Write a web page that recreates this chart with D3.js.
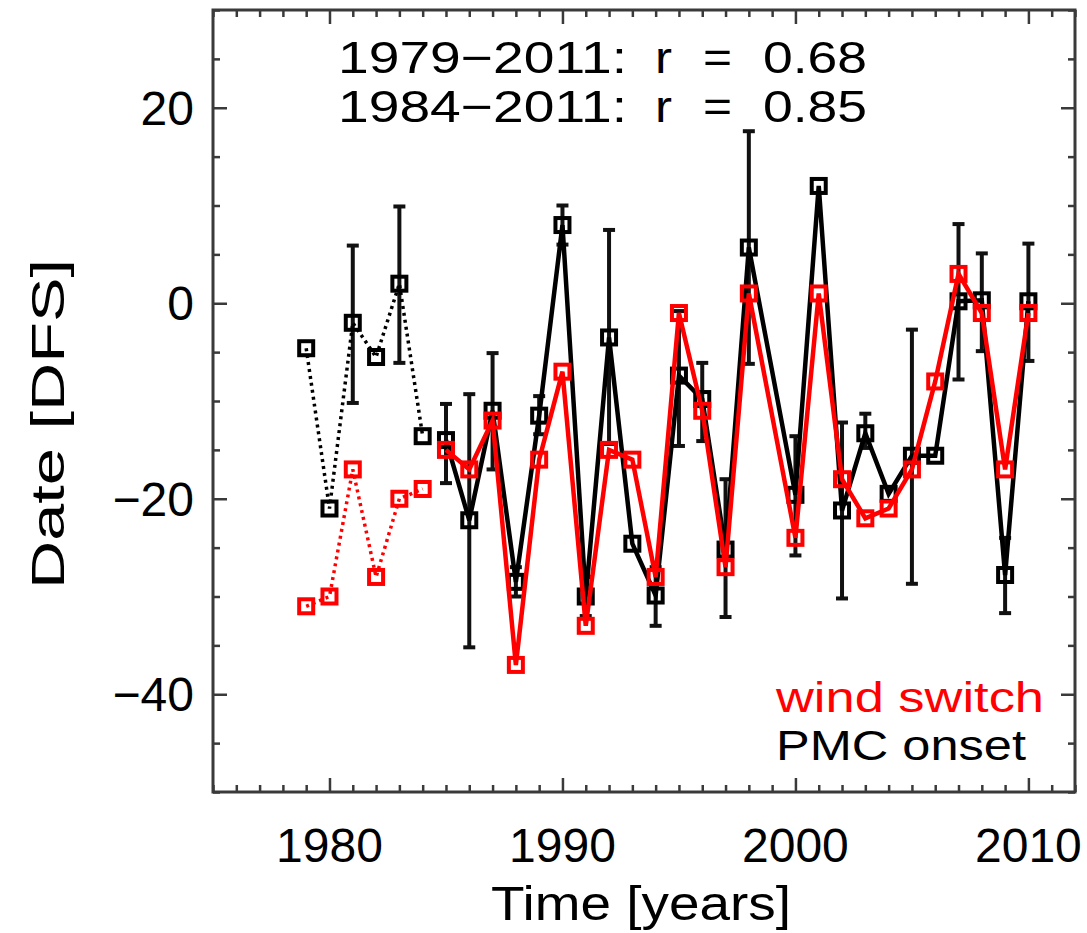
<!DOCTYPE html>
<html>
<head>
<meta charset="utf-8">
<script src="https://cdn.jsdelivr.net/npm/d3@7"></script>
<style>
  body { margin: 0; background: #fff; }
  text { font-family: "Liberation Sans", Arial, sans-serif; }
</style>
</head>
<body>
<div id="chart"></div>
<script>
// years (1999 has no data)
const years = [1979, 1980, 1981, 1982, 1983, 1984, 1985, 1986, 1987, 1988, 1989, 1990,
  1991, 1992, 1993, 1994, 1995, 1996, 1997, 1998, 2000, 2001, 2002, 2003, 2004,
  2005, 2006, 2007, 2008, 2009, 2010];

// PMC onset (black) and its error range
const pmcOnset = [-4.6, -21, -2, -5.5, 2, -13.6, -14, -22.2, -11, -28.5, -11.5, 8,
  -30, -3.5, -24.6, -29.9, -7.4, -9.8, -25.2, 5.7, -19.6, 12, -21.2, -13.3, -19.5,
  -15.6, -15.6, 0.2, 0.3, -27.8, 0.2];
const pmcLow = [null, null, -10.2, null, -6.1, null, -18.4, -35.2, -17, -30, -13.4, 6,
  -32, -14.4, null, -33, -14.6, -14.1, -32.1, -6.2, -25.8, null, -30.2, -14.8, null,
  -28.7, null, -7.8, -4.9, -31.7, -5.9];
const pmcHigh = [null, null, 5.9, null, 9.9, null, -10.3, -9.3, -5.1, -27, -9.5, 10,
  -28, 7.5, null, -27, -0.8, -6.1, -18, 17.6, -13.6, null, -12.2, -11.3, null,
  -2.7, null, 8.1, 5.1, -24, 6.1];

// wind switch (red)
const windSwitch = [-31, -30, -17, -28, -20, -19, -15, -17, -12, -37, -16, -7, -33,
  -15, -16, -28, -1, -11, -27, 1, -24, 1, -18, -22, -21, -17, -8, 3, -1, -17, -1];

const xTickLabels = [1980, 1990, 2000, 2010];
const yTickLabels = [-40, -20, 0, 20];
const corrLabels = [["1979\u22122011:", "r", "=", "0.68"], ["1984\u22122011:", "r", "=", "0.85"]];
const legendNames = ["wind switch", "PMC onset"];
const lastDotted = 1984; // early years drawn dotted

const W = 1087, H = 933;
const margin = { left: 213, right: 12, top: 10, bottom: 141 };

const svg = d3.select("#chart").append("svg")
  .attr("width", W)
  .attr("height", H);

const x = d3.scaleLinear().domain([1975, 2012]).range([margin.left, W - margin.right]);
const y = d3.scaleLinear().domain([-50, 30]).range([H - margin.bottom, margin.top]);

const data = years.map((yr, i) => ({
  year: yr, pmc: pmcOnset[i], lo: pmcLow[i], hi: pmcHigh[i], wind: windSwitch[i]
}));

// ---- axes: ticks inward on all four sides
const axisColor = "#3a3a3a";
const xMinor = d3.range(1975, 2013).filter((v) => v % 10 != 0);
const yMinor = d3.range(-50, 31, 5).filter((v) => v % 20 != 0);

function axisSide(gen, vals, len, tr) {
  svg.append("g")
    .attr("transform", tr)
    .call(gen.tickValues(vals).tickSize(len).tickFormat(""))
    .call((g) => g.select(".domain").remove())
    .call((g) => g.selectAll("line").attr("stroke", axisColor).attr("stroke-width", 2.5));
}
const x0 = margin.left, x1 = W - margin.right, y0 = H - margin.bottom, y1 = margin.top;
// bottom & top
axisSide(d3.axisTop(x), xMinor, 7, `translate(0,${y0})`);
axisSide(d3.axisTop(x), xTickLabels, 14, `translate(0,${y0})`);
axisSide(d3.axisBottom(x), xMinor, 7, `translate(0,${y1})`);
axisSide(d3.axisBottom(x), xTickLabels, 14, `translate(0,${y1})`);
// left & right
axisSide(d3.axisRight(y), yMinor, 7, `translate(${x0},0)`);
axisSide(d3.axisRight(y), yTickLabels, 14, `translate(${x0},0)`);
axisSide(d3.axisLeft(y), yMinor, 7, `translate(${x1},0)`);
axisSide(d3.axisLeft(y), yTickLabels, 14, `translate(${x1},0)`);

svg.append("rect")
  .attr("x", x0).attr("y", y1)
  .attr("width", x1 - x0).attr("height", y0 - y1)
  .attr("fill", "none")
  .attr("stroke", axisColor)
  .attr("stroke-width", 3);

// tick labels
svg.append("g").selectAll("text")
  .data(xTickLabels)
  .join("text")
  .attr("x", (d) => x(d))
  .attr("y", 862)
  .attr("text-anchor", "middle")
  .attr("font-size", 48)
  .text((d) => d);

svg.append("g").selectAll("text")
  .data(yTickLabels)
  .join("text")
  .attr("x", 194)
  .attr("y", (d) => y(d) + 17)
  .attr("text-anchor", "end")
  .attr("font-size", 48)
  .text((d) => (d < 0 ? "\u2212" + Math.abs(d) : d));

// axis titles
svg.append("text")
  .attr("x", 641)
  .attr("y", 920)
  .attr("text-anchor", "middle")
  .attr("font-size", 48)
  .attr("textLength", 300)
  .attr("lengthAdjust", "spacingAndGlyphs")
  .text("Time [years]");

svg.append("text")
  .attr("transform", "translate(64,424) rotate(-90)")
  .attr("text-anchor", "middle")
  .attr("font-size", 46)
  .attr("textLength", 330)
  .attr("lengthAdjust", "spacingAndGlyphs")
  .text("Date [DFS]");

// ---- error bars (PMC onset)
const bars = svg.append("g").attr("stroke", "#111").attr("stroke-width", 4);
const withErr = data.filter((d) => d.lo != null);
bars.selectAll(".bar")
  .data(withErr)
  .join("line")
  .attr("x1", (d) => x(d.year)).attr("x2", (d) => x(d.year))
  .attr("y1", (d) => y(d.lo)).attr("y2", (d) => y(d.hi));
bars.selectAll(".capLo")
  .data(withErr)
  .join("line")
  .attr("x1", (d) => x(d.year) - 6).attr("x2", (d) => x(d.year) + 6)
  .attr("y1", (d) => y(d.lo)).attr("y2", (d) => y(d.lo));
bars.selectAll(".capHi")
  .data(withErr)
  .join("line")
  .attr("x1", (d) => x(d.year) - 6).attr("x2", (d) => x(d.year) + 6)
  .attr("y1", (d) => y(d.hi)).attr("y2", (d) => y(d.hi));

// ---- series lines + square markers
function drawSeries(key, col) {
  const line = d3.line().x((d) => x(d.year)).y((d) => y(d[key]));
  const early = data.filter((d) => d.year <= lastDotted);
  const late = data.filter((d) => d.year > lastDotted);

  svg.append("path")
    .datum(early)
    .attr("d", line)
    .attr("fill", "none")
    .attr("stroke", col)
    .attr("stroke-width", 3.5)
    .attr("stroke-dasharray", "3,4");

  svg.append("path")
    .datum(late)
    .attr("d", line)
    .attr("fill", "none")
    .attr("stroke", col)
    .attr("stroke-width", 4.5)
    .attr("stroke-linejoin", "miter");

  svg.append("g").selectAll("rect")
    .data(data)
    .join("rect")
    .attr("x", (d) => x(d.year) - 7)
    .attr("y", (d) => y(d[key]) - 7)
    .attr("width", 14)
    .attr("height", 14)
    .attr("fill", "none")
    .attr("stroke", col)
    .attr("stroke-width", 4);
}
drawSeries("pmc", "#000");
drawSeries("wind", "#ff0000");

// ---- correlation text (one text block, pieces placed as tspans)
const colX = [338, 655, 703, 763];
const colLen = [289, 17, 29, 104];
const corr = svg.append("text").attr("font-size", 44);
corrLabels.forEach((row, i) => {
  row.forEach((s, j) => {
    corr.append("tspan")
      .attr("x", colX[j])
      .attr("y", 73 + i * 49)
      .attr("textLength", colLen[j])
      .attr("lengthAdjust", "spacingAndGlyphs")
      .text(s);
  });
});

// ---- legend
const legendColors = ["#ff0000", "#000"];
const legendLen = [268, 250];
svg.append("g").selectAll("text")
  .data(legendNames)
  .join("text")
  .attr("x", 776)
  .attr("y", (d, i) => 712 + i * 48)
  .attr("font-size", 42)
  .attr("fill", (d, i) => legendColors[i])
  .attr("textLength", (d, i) => legendLen[i])
  .attr("lengthAdjust", "spacingAndGlyphs")
  .text((d) => d);
</script>
</body>
</html>
